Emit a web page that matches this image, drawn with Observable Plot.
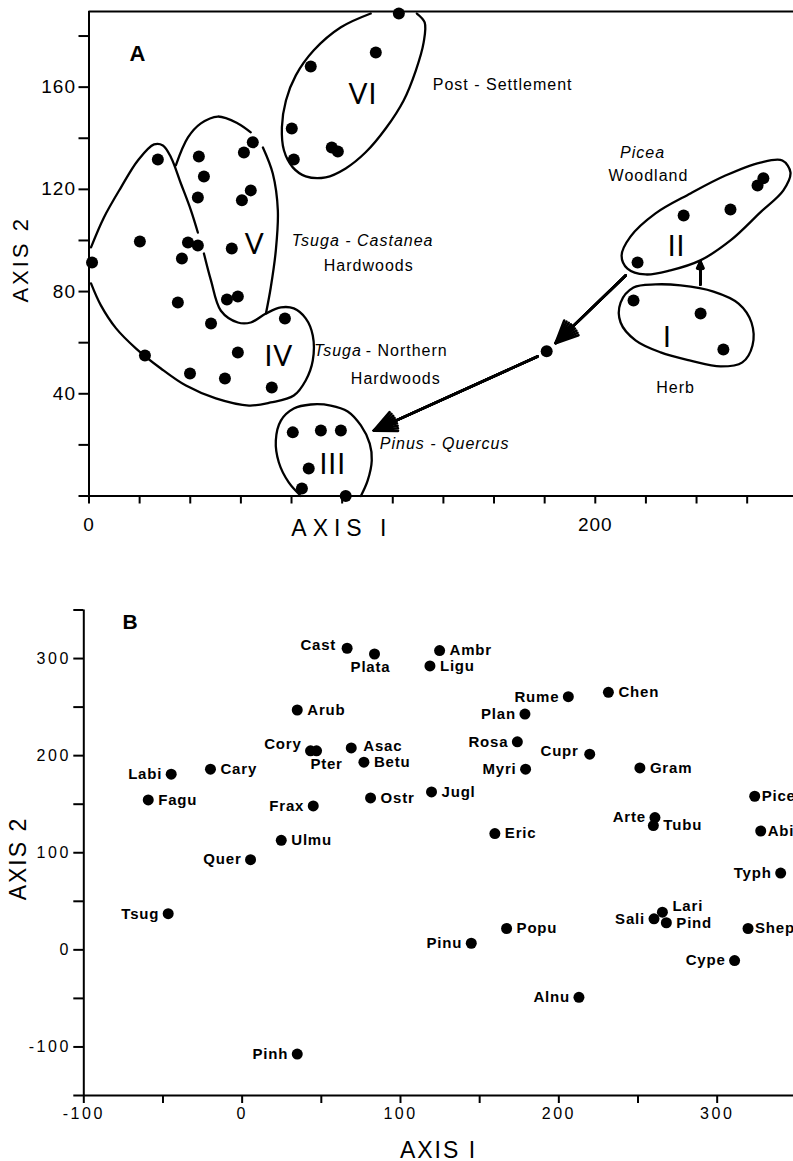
<!DOCTYPE html>
<html><head><meta charset="utf-8">
<script src="https://cdn.jsdelivr.net/npm/d3@7"></script>
<script src="https://cdn.jsdelivr.net/npm/@observablehq/plot@0.6"></script>
<style>
html,body{margin:0;padding:0;background:#fff;overflow:hidden;width:793px;height:1161px}
#a,#b{display:block;width:793px}
svg{display:block}
</style></head><body><div id="a"></div><div id="b"></div>
<script>
// ================= PANEL A : sample ordination =================
const sampleAxis1 = [122.4,113.3,87.6,80.1,80.9,95.9,98.3, 43.4,45.4,43.0,61.2,64.7,63.9,60.4,56.4,39.1,43.0,36.7,20.1,27.2,1.2,
  35.1,54.5,58.8,48.2,77.4,22.1,58.8,39.9,53.7,72.2, 80.5,91.6,99.5,86.8,84.1,101.4, 180.8, 215.1,241.6,250.6, 216.7,234.9,253.4,264.1,266.4];
const sampleAxis2 = [188.8,173.6,168.1,143.8,131.7,136.4,134.8, 132.9,125.0,116.8,134.4,138.4,119.6,115.7,96.9,99.2,98.0,92.9,99.6,131.7,91.4,
  75.7,76.9,78.1,67.5,69.5,55.0,56.2,47.9,46.0,42.5, 24.9,25.6,25.6,10.8,2.9,0, 56.6, 76.5,71.4,57.3, 91.4,109.8,112.1,121.5,124.3];

// cluster outlines (axis1, axis2)
const outlineVI = [[111.3,188.8],[99.5,183.4],[88.8,174.4],[81.7,164.6],[77.8,154.8],[76.2,144.3],[77.0,135.3],[80.5,128.6],[85.6,125.1],[93.5,124.7],[101.4,128.2],[109.3,134.5],[117.2,143.8],[124.3,154.8],[129.1,166.5],[132.2,177.5],[132.6,185.3],[129.5,188.8]];
const outlineLobe = [[0.8,97.3],[5.9,109.0],[12.6,120.7],[19.3,131.3],[25.7,137.6],[29.2,137.2],[32.4,132.5],[36.3,122.3],[40.3,111.7],[43.0,103.1]];
const outlineIV = [[45.4,94.9],[48.2,84.3],[52.1,72.5],[58.8,67.9],[63.9,67.9],[69.9,71.4],[75.8,73.8],[80.9,73.4],[85.6,69.5],[88.4,62.8],[88.4,53.0],[85.6,45.2],[80.9,39.3],[71.8,36.6],[63.2,35.4],[50.1,38.2],[38.3,43.2],[28.4,49.9],[18.6,57.7],[10.7,65.6],[4.7,74.6],[0.8,83.2]];
const outlineVTop = [[34.3,129.4],[39.1,140.3],[44.2,145.8],[50.9,148.5],[58.8,145.8],[63.9,142.3]];
const outlineVRight = [[68.7,136.4],[72.6,126.2],[74.6,111.7],[73.8,96.1],[71.8,81.6],[69.9,71.4]];
const outlineIII = [[83.7,0],[78.9,5.3],[75.0,13.1],[73.8,21.7],[75.8,29.5],[80.9,34.2],[87.6,35.8],[95.5,35.4],[102.2,33.1],[107.4,27.6],[110.9,20.5],[111.7,13.9],[110.1,6.1],[107.4,0]];
const outlineI = [[215.1,81.6],[210.0,75.7],[210.0,67.9],[215.9,60.9],[225.8,56.2],[237.6,53.0],[249.5,50.7],[258.1,52.3],[262.1,58.9],[261.7,67.9],[256.6,75.3],[246.7,80.0],[233.7,82.4],[223.8,82.8]];
const outlineII = [[212.7,89.0],[210.4,94.1],[213.9,101.5],[223.8,110.6],[237.6,118.4],[251.4,125.4],[265.2,130.5],[273.9,131.3],[277.1,126.6],[274.3,119.6],[265.2,111.0],[253.4,100.0],[241.5,92.2],[229.7,88.3],[219.8,86.7]];

// successional arrows
const arrowsA = [
  {from1:212.0, from2:86.3, to1:184.3, to2:59.8},
  {from1:177.2, from2:54.6, to1:112.5, to2:25.6},
  {from1:241.5, from2:82.8, to1:241.5, to2:91.8}
];

// annotation texts
const numeralsA = [{t:"VI",a1:108.2,a2:156.8},{t:"V",a1:65.5,a2:98.4},{t:"IV",a1:75.0,a2:54.2},{t:"III",a1:96.3,a2:12.3},{t:"II",a1:232.1,a2:97.3},{t:"I",a1:228.5,a2:62.0}];
const namesA = [{t:"Post - Settlement",a1:135.8,a2:160.7,anchor:"start"},{t:"Woodland",a1:221.0,a2:125.4,anchor:"middle"},{t:"Hardwoods",a1:110.5,a2:90.2,anchor:"middle"},{t:"- Northern",a1:109.3,a2:56.9,anchor:"start"},{t:"Hardwoods",a1:121.2,a2:46.0,anchor:"middle"},{t:"Herb",a1:231.7,a2:42.5,anchor:"middle"}];
const italicA = [{t:"Picea",a1:218.7,a2:134.4,anchor:"middle"},{t:"Tsuga - Castanea",a1:108.1,a2:100.0,anchor:"middle"},{t:"Tsuga",a1:107.8,a2:56.9,anchor:"end"},{t:"Pinus - Quercus",a1:140.5,a2:20.5,anchor:"middle"}];
const tagA = [{t:"A",a1:19.3,a2:173.1}];
const titlesA = [{t:"AXIS I",a1:99.9,a2:-12.7,rot:0},{t:"AXIS 2",a1:-26.8,a2:92.6,rot:-90}];

// ================= PANEL B : taxa ordination =================
const taxa = ["Cast","Plata","Arub","Cory","Pter","Asac","Betu","Labi","Cary","Fagu","Frax","Ostr","Ulmu","Quer","Tsug","Pinh","Ambr","Ligu","Rume","Chen","Plan","Rosa","Cupr","Myri","Gram","Jugl","Pice","Arte","Tubu","Eric","Abie","Typh","Lari","Sali","Pind","Popu","Shep","Pinu","Cype","Alnu"];
const taxaAxis1 = [66.3,83.6,34.8,43.2,47.0,68.9,76.9,-44.8,-20.0,-59.3,44.9,81.1,24.7,5.3,-46.7,34.8,124.7,118.6,206.0,231.3,178.6,173.8,219.5,179.0,251.2,119.6,323.7,260.7,259.7,159.6,327.5,340.1,265.4,260.1,267.9,167.0,319.5,144.7,311.0,212.7];
const taxaAxis2 = [310.6,304.7,247.0,205.0,205.0,208.0,193.3,180.9,186.1,154.4,148.2,156.4,112.8,92.9,37.2,-107.3,308.2,292.4,260.7,265.2,242.8,214.2,201.5,186.1,187.4,162.6,158.2,136.2,128.0,119.7,122.4,79.1,38.8,32.0,27.9,22.0,22.0,6.8,-11.0,-48.9];
const labelSide = {Cast:"leftUp",Plata:"below",Arub:"right",Cory:"leftUp2",Pter:"below2",Asac:"rightUp",Betu:"right",Labi:"left",Cary:"right",Fagu:"right",Frax:"left",Ostr:"right",Ulmu:"right",Quer:"left",Tsug:"left",Pinh:"left",Ambr:"right",Ligu:"right",Rume:"left",Chen:"right",Plan:"left",Rosa:"left",Cupr:"leftUp",Myri:"left",Gram:"right",Jugl:"right",Pice:"rightNear",Arte:"left",Tubu:"right",Eric:"right",Abie:"rightNear",Typh:"left",Lari:"rightUp2",Sali:"left",Pind:"right",Popu:"right",Shep:"rightNear",Pinu:"left",Cype:"left",Alnu:"left"};
const tagB = [{t:"B",a1:-70.5,a2:337.1}];
const titlesB = [{t:"AXIS I",a1:124.0,a2:-206.7,rot:0},{t:"AXIS 2",a1:-141.2,a2:94.0,rot:-90}];

// ---------------------------------------------------------------
const samplesA = sampleAxis1.map((v,i)=>({a1:v, a2:sampleAxis2[i]}));
const taxaB = taxa.map((n,i)=>({name:n, a1:taxaAxis1[i], a2:taxaAxis2[i], side:labelSide[n]}));
const FONT = "'Liberation Sans', Arial, Helvetica, sans-serif";
const px = d=>d[0], py = d=>d[1];
const outlineMark = (pts, closed) => Plot.line(pts, {x:px, y:py, curve: closed ? "catmull-rom-closed" : "catmull-rom", stroke:"#000", strokeWidth:2.3});
// filled-looking arrowheads: overlay arrows with a fan of head angles
const arrowMarks = [50, 38, 26, 14, 4].map(a => Plot.arrow(arrowsA, {x1:"from1",y1:"from2",x2:"to1",y2:"to2",headLength:14,headAngle:a,strokeWidth:2.6,stroke:"#000"}));

const chartA = Plot.plot({
  width:793, height:560,
  marginTop:11, marginBottom:64.5, marginLeft:88.5, marginRight:0,
  x:{domain:[0,278.3]}, y:{domain:[0,189.6]},
  style:{fontFamily:FONT, fontSize:"19px", color:"#000", background:"#fff", overflow:"visible"},
  marks:[
    Plot.axisX({ticks:d3.range(0,261,20), tickFormat:d=>(d===0||d===200)?String(d):"", tickSize:8, tickPadding:13, strokeWidth:2, fontSize:19, label:null}),
    Plot.axisY({ticks:d3.range(0,181,20), tickFormat:d=>(d>0&&d%40===0)?String(d):"", tickSize:10, tickPadding:3, strokeWidth:2, fontSize:19, label:null}),
    Plot.ruleX([0],{strokeWidth:2}),
    Plot.ruleY([0],{strokeWidth:2}),
    Plot.ruleY([189.6],{strokeWidth:2}),
    outlineMark(outlineVI,false), outlineMark(outlineLobe,false), outlineMark(outlineIV,false),
    outlineMark(outlineVTop,false), outlineMark(outlineVRight,false), outlineMark(outlineIII,false),
    outlineMark(outlineI,true), outlineMark(outlineII,true),
    ...arrowMarks,
    Plot.dot(samplesA,{x:"a1",y:"a2",r:6,fill:"#000",stroke:"none"}),
    Plot.text(numeralsA,{x:"a1",y:"a2",text:"t",fontSize:28,fontFamily:"Lato, "+FONT,fontWeight:400,fill:"#000"}),
    Plot.text(namesA.filter(d=>d.anchor==="start"),{x:"a1",y:"a2",text:"t",textAnchor:"start",fontSize:16,fill:"#000"}),
    Plot.text(namesA.filter(d=>d.anchor==="middle"),{x:"a1",y:"a2",text:"t",textAnchor:"middle",fontSize:16,fill:"#000"}),
    Plot.text(italicA.filter(d=>d.anchor==="middle"),{x:"a1",y:"a2",text:"t",textAnchor:"middle",fontSize:16,fontStyle:"italic",fill:"#000"}),
    Plot.text(italicA.filter(d=>d.anchor==="end"),{x:"a1",y:"a2",text:"t",textAnchor:"end",fontSize:16,fontStyle:"italic",fill:"#000"}),
    Plot.text(tagA,{x:"a1",y:"a2",text:"t",fontSize:22,fontWeight:"bold",fill:"#000"}),
    Plot.text(titlesA.filter(d=>d.rot===0),{x:"a1",y:"a2",text:"t",fontSize:23,fill:"#000"}),
    Plot.text(titlesA.filter(d=>d.rot!==0),{x:"a1",y:"a2",text:"t",fontSize:22,rotate:-90,fill:"#000"})
  ]
});

const lab = (side, opts) => Plot.text(taxaB.filter(d=>d.side===side), Object.assign({x:"a1", y:"a2", text:"name", fontSize:15, fontWeight:"bold", fill:"#000"}, opts));
const chartB = Plot.plot({
  width:793, height:601,
  marginTop:49.5, marginBottom:66, marginLeft:83.3, marginRight:0,
  x:{domain:[-100,348.2]}, y:{domain:[-150,350]},
  style:{fontFamily:FONT, fontSize:"16px", color:"#000", background:"#fff", overflow:"visible"},
  marks:[
    Plot.axisX({ticks:d3.range(-100,301,50), tickFormat:d=>d%100===0?String(d):"", tickSize:8, tickPadding:4, strokeWidth:2, fontSize:16, label:null}),
    Plot.axisY({ticks:d3.range(-150,351,50), tickFormat:d=>d%100===0?String(d):"", tickSize:10, tickPadding:3, strokeWidth:2, fontSize:16, label:null}),
    Plot.ruleX([-100],{strokeWidth:2}),
    Plot.ruleY([-150],{strokeWidth:2}),
    Plot.dot(taxaB,{x:"a1",y:"a2",r:5.5,fill:"#000",stroke:"none"}),
    lab("right",{textAnchor:"start",dx:10}),
    lab("rightNear",{textAnchor:"start",dx:7}),
    lab("rightUp",{textAnchor:"start",dx:12,dy:-2}),
    lab("rightUp2",{textAnchor:"start",dx:10,dy:-6}),
    lab("left",{textAnchor:"end",dx:-9}),
    lab("leftUp",{textAnchor:"end",dx:-11,dy:-3}),
    lab("leftUp2",{textAnchor:"end",dx:-9,dy:-7}),
    lab("below",{textAnchor:"middle",dx:-4,dy:13}),
    lab("below2",{textAnchor:"middle",dx:10,dy:13}),
    Plot.text(tagB,{x:"a1",y:"a2",text:"t",fontSize:21,fontWeight:"bold",fill:"#000"}),
    Plot.text(titlesB.filter(d=>d.rot===0),{x:"a1",y:"a2",text:"t",fontSize:23,fill:"#000"}),
    Plot.text(titlesB.filter(d=>d.rot!==0),{x:"a1",y:"a2",text:"t",fontSize:23,rotate:-90,fill:"#000"})
  ]
});

function spacing(svg, tickSp, titleSp, otherSp){
  d3.select(svg).selectAll("text").each(function(){
    const t = this.textContent;
    let s = otherSp;
    if (/^-?\d+$/.test(t)) s = tickSp;
    else if (t === "AXIS I" && svg === chartA) s = 6;
    else if (t.startsWith("AXIS")) s = titleSp;
    d3.select(this).style("letter-spacing", s+"px");
  });
}
spacing(chartA, 1, 3, 1);
spacing(chartB, 2.5, 2, 0.8);
document.getElementById("a").appendChild(chartA);
document.getElementById("b").appendChild(chartB);
</script></body></html>
